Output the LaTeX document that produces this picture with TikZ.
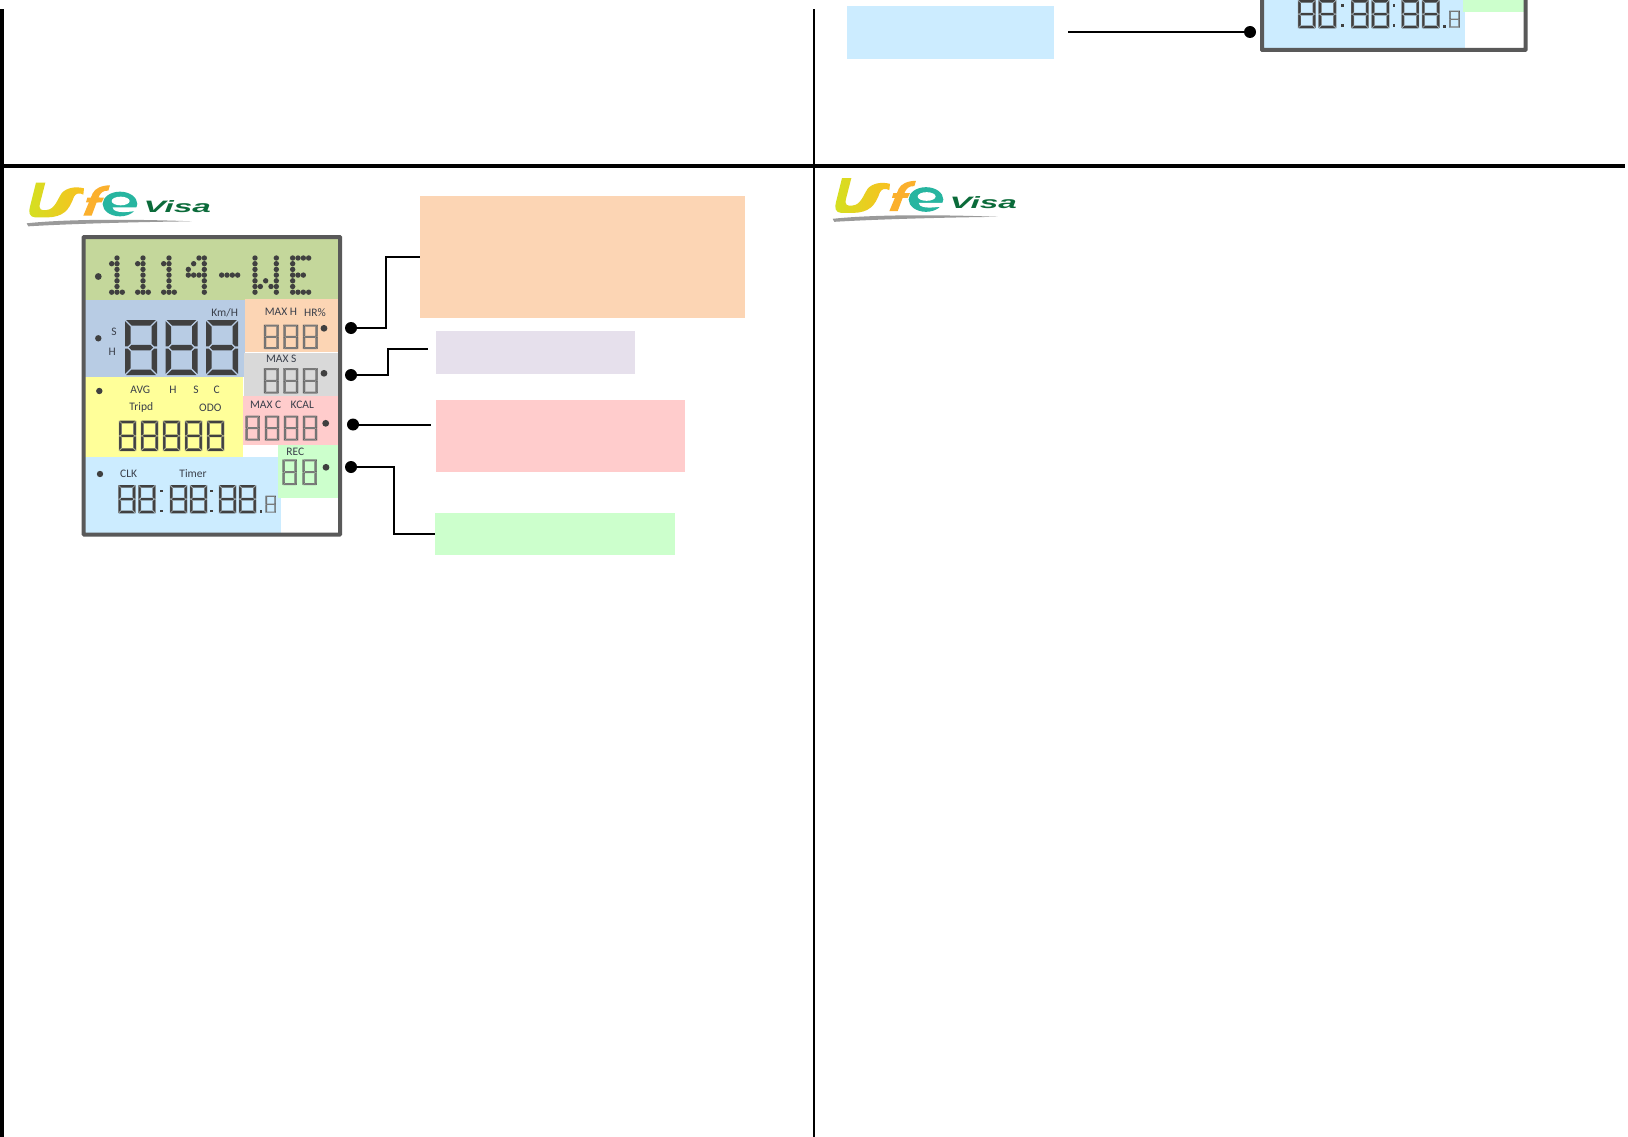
\documentclass[tikz,border=0pt]{standalone}
\usepackage{fontspec}
\setmainfont{Carlito}
\newfontfamily\visafont{Liberation Sans}
\definecolor{ltop}{HTML}{C4D79B}
\definecolor{lblue}{HTML}{B8CCE4}
\definecolor{lorange}{HTML}{FCD5B4}
\definecolor{lgray}{HTML}{D9D9D9}
\definecolor{lyellow}{HTML}{FFFF99}
\definecolor{lpink}{HTML}{FFCCCC}
\definecolor{lsky}{HTML}{CCECFF}
\definecolor{lgreen}{HTML}{CCFFCC}
\definecolor{llav}{HTML}{E6E0EC}
\definecolor{lframe}{HTML}{595959}
\definecolor{ldark}{HTML}{404040}
\definecolor{ltext}{HTML}{3A3F4A}
\definecolor{logoorange}{HTML}{FBB02D}
\definecolor{logoteal}{HTML}{27B5A0}
\definecolor{logogray}{HTML}{9A9A9A}
\definecolor{logogreen}{HTML}{0B6B3A}
\definecolor{logolime}{HTML}{D4E021}
\definecolor{logoyellow}{HTML}{F4EC0C}
\definecolor{logoamber}{HTML}{F9C020}
\tikzset{
  calloutbox/.style={draw=none,inner sep=0pt,minimum width=#1},
  bullet/.style={circle,fill=black,inner sep=0pt,minimum size=12pt},
  conn/.style={draw=black,line width=2pt},
  lab/.style={inner sep=0pt,text=ltext,font=\fontsize{11.5}{12}\selectfont},
  bigseg/.style={fill=ldark},
  midseg/.style={fill=ldark!70,draw=ldark!90,line width=.3pt},
  lcddot/.style={fill=ldark},
  rule/.style={fill=black},
  framel/.style={draw=lframe,line width=4pt,rounded corners=.5pt}
}
% digit: x y w h t style
\newcommand\sdigit[6]{%
\begin{scope}[shift={(#1,#2)}]
\def\W{#3}\def\H{#4}\def\T{#5}\pgfmathsetmacro\G{#5*0.2}
\fill[#6,draw=none] ({\G},0) -- ({\W-\G},0) -- ({\W-\G-\T},{\T}) -- ({\G+\T},{\T}) -- cycle;
\fill[#6,draw=none] ({\G},{\H}) -- ({\W-\G},{\H}) -- ({\W-\G-\T},{\H-\T}) -- ({\G+\T},{\H-\T}) -- cycle;
\fill[#6,draw=none] ({\G+\T/2},{\H/2}) -- ({\G+\T},{\H/2-\T/2}) -- ({\W-\G-\T},{\H/2-\T/2}) -- ({\W-\G-\T/2},{\H/2}) -- ({\W-\G-\T},{\H/2+\T/2}) -- ({\G+\T},{\H/2+\T/2}) -- cycle;
\path[#6] (0,{\G}) -- ({\T},{\G+\T}) -- ({\T},{\H/2-\T/2-\G}) -- ({\T/2},{\H/2-\G}) -- (0,{\H/2-\G}) -- cycle;
\path[#6] ({\W},{\G}) -- ({\W-\T},{\G+\T}) -- ({\W-\T},{\H/2-\T/2-\G}) -- ({\W-\T/2},{\H/2-\G}) -- ({\W},{\H/2-\G}) -- cycle;
\path[#6] (0,{\H-\G}) -- ({\T},{\H-\G-\T}) -- ({\T},{\H/2+\T/2+\G}) -- ({\T/2},{\H/2+\G}) -- (0,{\H/2+\G}) -- cycle;
\path[#6] ({\W},{\H-\G}) -- ({\W-\T},{\H-\G-\T}) -- ({\W-\T},{\H/2+\T/2+\G}) -- ({\W-\T/2},{\H/2+\G}) -- ({\W},{\H/2+\G}) -- cycle;
\end{scope}}
\newcommand\dotm[2]{\foreach \p/\q in {#2}{\fill[lcddot] ({70+(#1+\p*16)/3},{258+\q*5.7}) circle (2.7);}}
% timer row
\newcommand\timerrow{%
\foreach \xx in {118.3,138.3,170,190,219,239}{\sdigit{\xx}{485}{17}{28.3}{2.6}{bigseg,draw=gray,line width=.4pt}}
\foreach \xx in {161.7,211.7}{\fill[ldark] (\xx-1.4,489.5) rectangle (\xx+1.4,492.3); \fill[ldark] (\xx-1.4,509.5) rectangle (\xx+1.4,512.3);}
\fill[ldark] (259.5,510) rectangle (262.3,512.8);
\sdigit{265.7}{495.7}{10}{17}{1.2}{midseg}}
\newcommand\lifelogo{%
\shade[left color=logolime,middle color=logoyellow,right color=logoamber]
 (108,68) -- (136,68) -- (120,130) .. controls (115,150) and (125,152) .. (140,150)
 .. controls (165,148) and (172,118) .. (185,100) .. controls (198,84) and (225,78) .. (252,85)
 -- (250,104) .. controls (238,97) and (228,100) .. (222,110) .. controls (208,150) and (190,172) .. (140,172)
 -- (105,172) .. controls (88,172) and (85,155) .. (90,140) -- cycle;
\fill[logoorange] (250,167) -- (278,100) .. controls (285,85) and (305,76) .. (330,76) -- (325,92)
 .. controls (310,90) and (300,100) .. (295,113) -- (312,113) -- (305,127) -- (290,127) -- (275,167) -- cycle;
\fill[logoorange] (262,113) -- (300,113) -- (295,127) -- (258,127) -- cycle;
\fill[logoteal] (360,132) ellipse [x radius=52,y radius=37];
\fill[white] (362,123) ellipse [x radius=27,y radius=13];
\fill[white] (338,142) -- (416,142) -- (416,153) .. controls (395,153) and (360,162) .. (342,150) -- cycle;
\fill[logogray] (80,190) .. controls (200,177) and (400,177) .. (575,184) .. controls (400,186) and (200,192) .. (85,199) -- cycle;}
\begin{document}
\begin{tikzpicture}[x=1pt,y=-1pt]
\useasboundingbox (0,0) rectangle (1628,1137);
\fill[white] (0,0) rectangle (1628,1137);
% page rules
\fill[rule] (0,9) rectangle (3.5,1137);
\fill[rule] (813.2,9) rectangle (815,1137);
\fill[rule] (0,164) rectangle (1625,168);
% logos
\begin{scope}[shift={(0,160)},x=0.3333pt,y=-0.3333pt]
\lifelogo
\node[inner sep=0pt,text=logogreen] (visa1) at (532,141) {\scalebox{2.02}[1]{\visafont\bfseries\itshape\fontsize{16.5}{17}\selectfont Visa}};
\end{scope}
\begin{scope}[shift={(806,155.5)},x=0.3333pt,y=-0.3333pt]
\lifelogo
\node[inner sep=0pt,text=logogreen] (visa2) at (532,141) {\scalebox{2.02}[1]{\visafont\bfseries\itshape\fontsize{16.5}{17}\selectfont Visa}};
\end{scope}
% LCD panel colours
\fill[ltop] (85,239) rectangle (338,300);
\fill[lblue] (85,300) rectangle (245,377);
\fill[lorange] (245,299) rectangle (338,352);
\fill[lgray] (244,353) rectangle (338,396);
\fill[lyellow] (85,377) rectangle (243,457);
\fill[lpink] (243,396) rectangle (338,445);
\fill[lsky] (85,457) rectangle (281,533);
\fill[lgreen] (278,445) rectangle (338,498);
\draw[framel] (83.7,237) rectangle (340,534.5);
% dot matrix
\fill[lcddot] (98.3,276.5) circle (3.4);
\foreach \b in {125,203,281}{\dotm{\b}{1/0,1/1,1/2,1/3,1/4,1/5,1/6,0/1,0/6,2/6}}
\dotm{355}{3/0,2/0,3/1,1/1,3/2,0/2,0/3,1/3,2/3,3/3,3/4,3/5,3/6}
\dotm{455}{0/3,1/3,2/3,3/3}
\dotm{555}{0/0,0/1,0/2,0/3,0/4,0/5,0/6,4/0,4/1,4/2,4/3,4/4,4/5,4/6,1/5,2/4,3/5}
\dotm{668}{0/0,0/1,0/2,0/3,0/4,0/5,0/6,1/0,2/0,3/0,1/3,2/3,1/6,2/6,3/6}
% segment digits
\foreach \xx in {125,165.5,206}{\sdigit{\xx}{320}{32}{55}{5.5}{bigseg}}
\foreach \xx in {264,283.5,303}{\sdigit{\xx}{324.5}{14.5}{24.5}{2}{midseg}}
\foreach \xx in {264,283.5,303}{\sdigit{\xx}{368}{14.5}{25.5}{2}{midseg}}
\foreach \xx in {119,141,163,185,207}{\sdigit{\xx}{420.7}{17}{30.3}{2.6}{bigseg,draw=gray,line width=.4pt}}
\foreach \xx in {245.7,265,284,303}{\sdigit{\xx}{415.7}{14}{25}{2}{midseg}}
\foreach \xx in {282.7,302.7}{\sdigit{\xx}{459.3}{14}{25.7}{2}{midseg}}
\timerrow
% indicator dots
\fill[ldark] (98.3,338.3) circle (3.2);
\fill[ldark] (324,328.3) circle (3.4);
\fill[ldark] (324,373.3) circle (3.4);
\fill[ldark] (99.3,391) circle (3.2);
\fill[ldark] (325.7,423.3) circle (3.4);
\fill[ldark] (326,467.3) circle (3.4);
\fill[ldark] (100,474) circle (3.2);
% labels
\node[lab] (ls) at (114,331.7) {S};
\node[lab] (lh) at (112.3,351.7) {H};
\node[lab] (lkmh) at (224.7,312.7) {Km/H};
\node[lab] (lmaxh) at (281,312.3) {MAX H};
\node[lab] (lhr) at (315,312.3) {HR\%};
\node[lab] (lmaxs) at (281.3,359) {MAX S};
\node[lab] (lavg) at (140.3,390) {AVG};
\node[lab] (lh2) at (173,390) {H};
\node[lab] (ls2) at (196,390) {S};
\node[lab] (lc) at (216.7,390) {C};
\node[lab] (ltrip) at (141.3,407.7) {Tripd};
\node[lab] (lodo) at (210.3,408.3) {ODO};
\node[lab] (lmaxc) at (265.7,405.3) {MAX C};
\node[lab] (lkcal) at (302.3,405.3) {KCAL};
\node[lab] (lrec) at (295.3,452.3) {REC};
\node[lab] (lclk) at (128.7,474.3) {CLK};
\node[lab] (ltimer) at (193,473.3) {Timer};
% callout boxes
\node[calloutbox=325pt,minimum height=122pt,fill=lorange] (bo) at (582.5,257) {};
\node[calloutbox=198.5pt,minimum height=43pt,fill=llav] (bl) at (535.25,352.5) {};
\node[calloutbox=249pt,minimum height=72pt,fill=lpink] (bp) at (560.5,436) {};
\node[calloutbox=240pt,minimum height=42pt,fill=lgreen] (bg) at (555,534) {};
% bullets
\node[bullet] (d1) at (351,328) {};
\node[bullet] (d2) at (351,375) {};
\node[bullet] (d3) at (353,424.5) {};
\node[bullet] (d4) at (351,467) {};
\coordinate (j1) at (386,257);
\coordinate (j2) at (388,349);
\coordinate (e2) at (428,349);
\coordinate (e3) at (431,424.5);
\coordinate (j4) at (393.5,534);
\draw[conn] (d1.center) -| (j1) -- (bo.west);
\draw[conn] (d2.center) -| (j2) -- (e2);
\draw[conn] (d3.center) -- (e3);
\draw[conn] (d4.center) -| (j4) -- (bg.west);
% upper-right fragment
\node[calloutbox=207pt,minimum height=53pt,fill=lsky] (bs) at (950.5,32.5) {};
\node[bullet] (d5) at (1250,32) {};
\coordinate (e5) at (1068,32);
\draw[conn] (e5) -- (d5.center);
\begin{scope}
\clip (0,0) rectangle (1628,1137);
\fill[lsky] (1262,0) rectangle (1465,48);
\fill[lgreen] (1463,0) rectangle (1525,12);
\draw[framel] (1262,-10) rectangle (1525.5,50);
\begin{scope}[shift={(1176.6,-485)},xscale=1.027]
\timerrow
\end{scope}
\end{scope}
\end{tikzpicture}
\end{document}
